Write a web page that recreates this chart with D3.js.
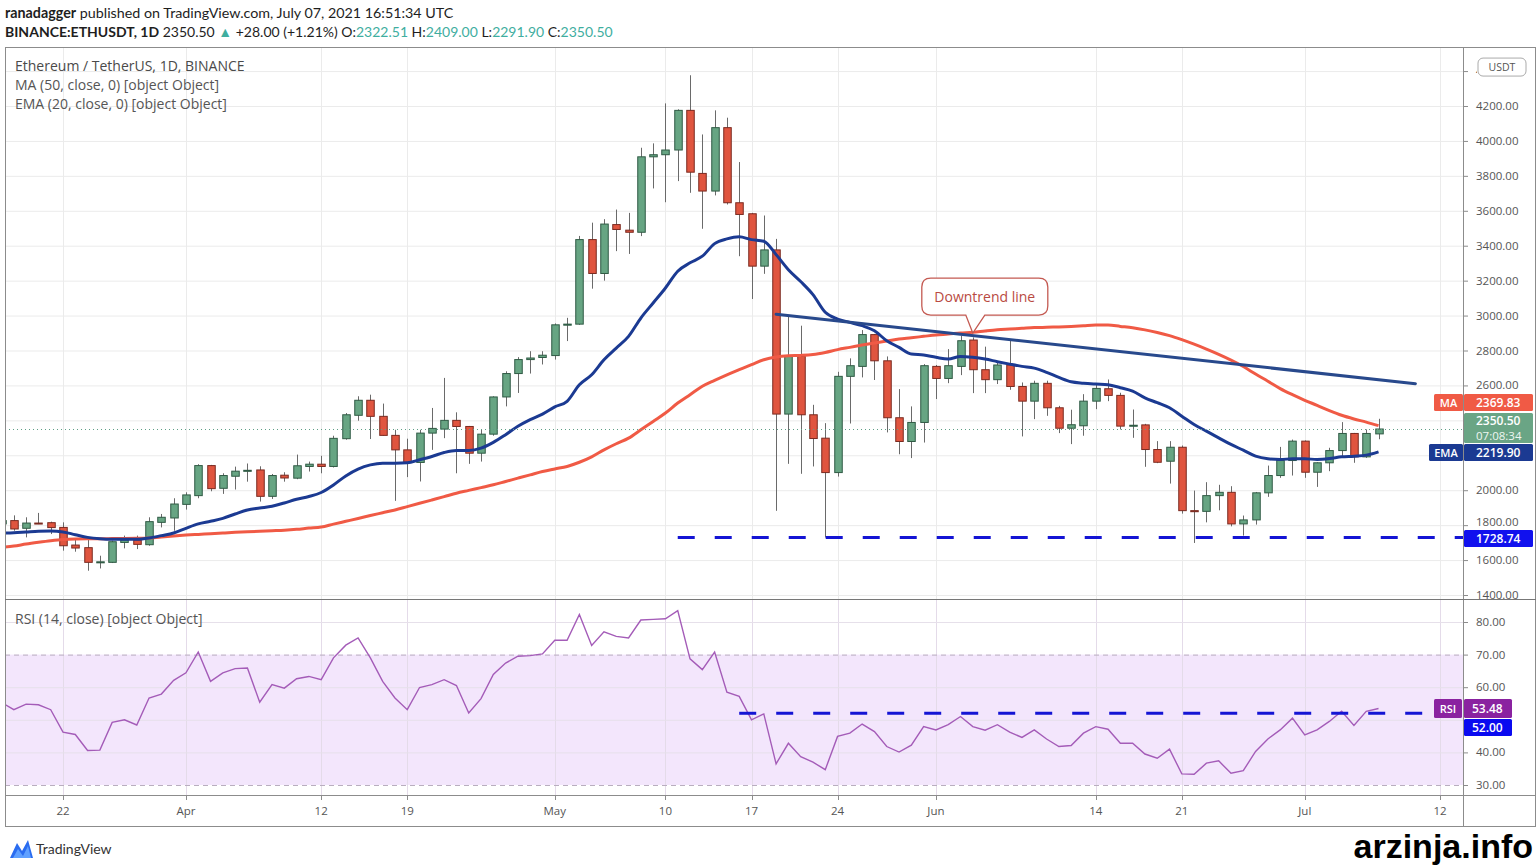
<!DOCTYPE html>
<html><head><meta charset="utf-8"><title>ETHUSDT 1D</title>
<script src="https://cdn.jsdelivr.net/npm/d3@7/dist/d3.min.js"></script>
<style>html,body{margin:0;padding:0;background:#fff;}svg{display:block;}</style>
</head><body>
<svg id="chart" width="1537" height="867"></svg>
<script>
// ---------- DATA ----------
const days = ["03-17","03-18","03-19","03-20","03-21","03-22","03-23","03-24","03-25","03-26","03-27","03-28","03-29","03-30","03-31",
"04-01","04-02","04-03","04-04","04-05","04-06","04-07","04-08","04-09","04-10","04-11","04-12","04-13","04-14","04-15","04-16","04-17","04-18","04-19","04-20","04-21","04-22","04-23","04-24","04-25","04-26","04-27","04-28","04-29","04-30",
"05-01","05-02","05-03","05-04","05-05","05-06","05-07","05-08","05-09","05-10","05-11","05-12","05-13","05-14","05-15","05-16","05-17","05-18","05-19","05-20","05-21","05-22","05-23","05-24","05-25","05-26","05-27","05-28","05-29","05-30","05-31",
"06-01","06-02","06-03","06-04","06-05","06-06","06-07","06-08","06-09","06-10","06-11","06-12","06-13","06-14","06-15","06-16","06-17","06-18","06-19","06-20","06-21","06-22","06-23","06-24","06-25","06-26","06-27","06-28","06-29","06-30",
"07-01","07-02","07-03","07-04","07-05","07-06","07-07"];

const opens = [1807,1826,1782,1812,1814,1787,1686,1671,1587,1587,1701,1715,1688,1816,1841,
1919,1969,2141,2011,2080,2109,2116,1965,2086,2069,2136,2149,2136,2295,2429,2515,2423,2314,2231,2159,2327,2350,2400,2365,2212,2321,2534,2668,2748,2760,
2771,2945,2951,3435,3241,3521,3489,3477,3909,3921,3948,4175,3814,3713,4076,3646,3583,3283,3376,2436,2767,2432,2298,2101,2652,2709,2891,2741,2415,2279,2388,
2709,2640,2709,2860,2690,2633,2717,2594,2510,2612,2472,2355,2369,2510,2581,2543,2367,2374,2233,2166,2246,1883,1879,1969,1988,1807,1830,1985,2084,2170,
2281,2103,2157,2227,2325,2191,2322.51];

const highs = [1835,1856,1845,1870,1820,1816,1720,1720,1625,1711,1740,1740,1845,1864,1954,
1988,2149,2145,2097,2135,2153,2137,2093,2103,2204,2164,2197,2312,2442,2538,2547,2496,2346,2295,2346,2471,2643,2446,2368,2350,2538,2681,2762,2796,2796,
2955,2987,3456,3532,3552,3607,3588,3961,3986,4215,4181,4376,4037,4175,4133,3879,3588,3573,3439,2996,2942,2489,2384,2678,2755,2917,2895,2766,2579,2480,2722,
2717,2808,2885,2875,2822,2736,2856,2617,2627,2627,2483,2461,2550,2608,2634,2558,2462,2380,2281,2281,2256,1998,2046,2031,2023,1855,1990,2141,2248,2290,
2285,2160,2243,2390,2328,2348,2409.00];

const lows = [1800,1768,1730,1806,1749,1654,1648,1539,1552,1583,1667,1663,1682,1787,1768,
1889,1954,1994,1979,2004,2049,1935,1950,2049,2063,2107,2097,2130,2289,2398,2293,2312,1939,2075,2050,2231,2298,2097,2151,2164,2312,2480,2557,2668,2720,
2748,2854,2947,3154,3200,3369,3353,3455,3728,3649,3770,3703,3497,3688,3636,3340,3095,3239,1882,2151,2094,2136,1729,2078,2382,2646,2631,2331,2206,2184,2273,
2522,2613,2659,2556,2556,2608,2575,2308,2407,2426,2327,2264,2312,2464,2510,2348,2300,2134,2155,2038,1866,1698,1816,1885,1793,1740,1803,1962,2071,2084,
2071,2019,2109,2195,2157,2185,2291.90];

const closes = [1826,1778,1812,1808,1786,1682,1669,1587,1590,1705,1715,1690,1820,1845,1921,
1973,2141,2009,2084,2109,2114,1965,2084,2070,2140,2149,2136,2297,2432,2515,2423,2314,2231,2159,2327,2354,2400,2365,2212,2321,2534,2668,2748,2757,2773,
2947,2951,3435,3241,3524,3493,3477,3909,3921,3948,4175,3821,3713,4076,3646,3579,3283,3376,2436,2770,2432,2296,2101,2652,2713,2891,2741,2415,2279,2388,2713,
2640,2713,2856,2690,2633,2717,2594,2510,2612,2472,2355,2375,2510,2583,2543,2367,2372,2233,2160,2246,1883,1877,1969,1988,1807,1830,1985,2084,2170,2281,
2103,2157,2227,2325,2191,2325,2350.50];

const ma50 = [1673,1680,1692,1702,1711,1718,1721,1722,1722,1723,1724,1725,1727,1732,1738,
1743,1747,1751,1755,1759,1762,1765,1768,1771,1776,1783,1789,1806,1822,1838,1855,1871,1887,1906,1925,1944,1963,1983,1999,2015,2031,2050,2069,2088,2107,
2122,2136,2160,2191,2231,2266,2298,2346,2394,2442,2499,2547,2595,2629,2661,2690,2719,2747,2763,2770,2772,2777,2789,2805,2818,2831,2843,2854,2866,2873,2881,
2889,2894,2900,2904,2912,2919,2923,2927,2931,2933,2935,2938,2942,2946,2946,2938,2930,2918,2903,2885,2862,2836,2808,2778,2745,2708,2665,2624,2582,2547,
2515,2486,2456,2429,2408,2390,2369.83];

const ema20 = [1755,1757,1761,1765,1766,1761,1745,1730,1722,1719,1719,1719,1726,1740,1755,
1782,1807,1822,1839,1864,1887,1898,1908,1927,1948,1964,1987,2030,2082,2121,2145,2155,2155,2157,2174,2193,2216,2228,2228,2241,2274,2318,2366,2404,2436,
2477,2509,2604,2661,2747,2814,2881,2986,3072,3158,3254,3302,3340,3412,3439,3451,3435,3426,3349,3263,3195,3120,3019,2980,2961,2942,2913,2856,2818,2780,2774,
2761,2751,2766,2761,2751,2736,2722,2709,2699,2675,2646,2621,2613,2608,2604,2587,2567,2529,2501,2472,2424,2376,2338,2300,2262,2229,2195,2180,2176,2180,
2180,2176,2181,2191,2195,2201,2219.90];

const rsi14 = [55.3,53.1,54.8,54.6,53.1,46.2,45.5,40.6,40.7,49.2,50.0,48.4,56.7,57.9,62.1,
64.4,70.8,61.8,64.4,65.7,65.9,55.4,60.8,59.7,62.6,63.3,62.3,69.0,72.9,75.1,69.0,61.8,56.7,53.1,59.9,60.8,62.3,60.5,52.1,56.5,63.9,67.4,69.5,69.7,70.2,
74.4,74.4,82.3,72.8,77.0,75.6,75.1,80.6,80.8,81.0,83.5,68.7,65.4,70.8,58.5,57.2,50.0,51.8,36.5,42.8,38.7,37.0,34.7,44.9,45.9,48.7,46.4,41.8,40.1,42.2,47.9,
46.9,48.5,51.0,47.9,46.8,48.5,46.2,44.6,46.9,44.1,41.8,42.1,45.9,47.9,47.1,42.8,42.8,39.5,38.2,41.0,33.4,33.3,36.7,37.4,33.6,34.4,40.3,44.1,46.9,50.5,
45.4,46.9,49.5,52.6,48.3,52.6,53.48];

const trendDays = ["05-19","07-10"];
const trendPrices = [3008, 2610];
const supportDays = ["05-11","07-15"];
const supportPrice = 1728.74;
const rsiLevelDays = ["05-16","07-15"];
const rsiLevel = 52.00;
const lastPrice = 2350.50;

const priceTicks = [1400,1600,1800,2000,2200,2400,2600,2800,3000,3200,3400,3600,3800,4000,4200,4400];
const rsiTicks = [30,40,50,60,70,80];
const timeTicks = ["03-22","04-01","04-12","04-19","05-01","05-10","05-17","05-24","06-01","06-14","06-21","07-01","07-12"];
const timeLabels = ["22","Apr","12","19","May","10","17","24","Jun","14","21","Jul","12"];

// ---------- LAYOUT ----------
const L=5, R=1463, T=47, PB=599, RT=600, RB=795, AB=826, FR=1536;
const FONT = "'Open Sans', 'Noto Sans', sans-serif";
const parse = s => d3.utcParse("%Y-%m-%d")("2021-" + s);
const x = d3.scaleUtc().domain([parse("03-22"), parse("07-12")]).range([63, 1440]);
const y = d3.scaleLinear().domain([1400, 4200]).range([595, 106]);
const yr = d3.scaleLinear().domain([30, 80]).range([785, 622]);
const fmt = d3.format(".2f");

const svg = d3.select("#chart");
svg.append("rect").attr("width",1537).attr("height",867).attr("fill","#fff");
const defs = svg.append("defs");
defs.append("clipPath").attr("id","clipP").append("rect").attr("x",L).attr("y",T).attr("width",R-L).attr("height",PB-T);
defs.append("clipPath").attr("id","clipR").append("rect").attr("x",L).attr("y",RT).attr("width",R-L).attr("height",RB-RT);
defs.append("clipPath").attr("id","clipTop").append("rect").attr("x",R).attr("y",T).attr("width",14).attr("height",40);

const data = days.map((d,i)=>({date:parse(d),o:opens[i],h:highs[i],l:lows[i],c:closes[i],ma:ma50[i],ema:ema20[i],rsi:rsi14[i]}));

// ---------- PRICE PANE GRID ----------
const gP = svg.append("g").attr("clip-path","url(#clipP)");
gP.selectAll("line.hg").data(priceTicks).join("line")
  .attr("x1",L).attr("x2",R).attr("y1",d=>y(d)+0.5).attr("y2",d=>y(d)+0.5)
  .attr("stroke","#ebebeb").attr("stroke-width",1);
gP.selectAll("line.vg").data(timeTicks).join("line")
  .attr("x1",d=>Math.round(x(parse(d)))+0.5).attr("x2",d=>Math.round(x(parse(d)))+0.5).attr("y1",T).attr("y2",PB)
  .attr("stroke","#ebebeb").attr("stroke-width",1);

// ---------- RSI PANE GRID ----------
const gR = svg.append("g").attr("clip-path","url(#clipR)");
gR.append("rect").attr("x",L).attr("width",R-L).attr("y",yr(70)).attr("height",yr(30)-yr(70)).attr("fill","#f3e6fc");
gR.selectAll("line.vg").data(timeTicks).join("line")
  .attr("x1",d=>Math.round(x(parse(d)))+0.5).attr("x2",d=>Math.round(x(parse(d)))+0.5).attr("y1",RT).attr("y2",RB)
  .attr("stroke","#e4dbe9").attr("stroke-width",1);
gR.selectAll("line.hg").data(rsiTicks.filter(v=>v!==70&&v!==30)).join("line")
  .attr("x1",L).attr("x2",R).attr("y1",d=>yr(d)+0.5).attr("y2",d=>yr(d)+0.5)
  .attr("stroke","#e6e0ea").attr("stroke-width",1);
gR.selectAll("line.band").data([70,30]).join("line")
  .attr("x1",L).attr("x2",R).attr("y1",d=>yr(d)+0.5).attr("y2",d=>yr(d)+0.5)
  .attr("stroke","#b9aebf").attr("stroke-width",1).attr("stroke-dasharray","5,4");

// ---------- CANDLES ----------
const up = "#67a583", upB = "#2f5a44", dn = "#e0553f", dnB = "#7a2a20";
const bw = 7.5;
const cg = gP.append("g");
cg.selectAll("line.wick").data(data).join("line")
  .attr("x1",d=>Math.round(x(d.date))+0.5).attr("x2",d=>Math.round(x(d.date))+0.5)
  .attr("y1",d=>y(d.h)).attr("y2",d=>y(d.l))
  .attr("stroke","#6a6a6a").attr("stroke-width",1);
cg.selectAll("rect.body").data(data).join("rect")
  .attr("x",d=>Math.round(x(d.date))-bw/2+0.5).attr("width",bw)
  .attr("y",d=>y(Math.max(d.o,d.c)))
  .attr("height",d=>Math.max(1,Math.abs(y(d.o)-y(d.c))))
  .attr("fill",d=>d.c>=d.o?up:dn)
  .attr("stroke",d=>d.c>=d.o?upB:dnB).attr("stroke-width",1);

// ---------- MA / EMA ----------
const lineMA = d3.line().x(d=>x(d.date)).y(d=>y(d.ma)).curve(d3.curveMonotoneX);
const lineEMA = d3.line().x(d=>x(d.date)).y(d=>y(d.ema)).curve(d3.curveMonotoneX);
gP.append("path").datum(data).attr("d",lineMA).attr("fill","none").attr("stroke","#f05a45").attr("stroke-width",3).attr("stroke-linejoin","round");
gP.append("path").datum(data).attr("d",lineEMA).attr("fill","none").attr("stroke","#1b3a92").attr("stroke-width",3).attr("stroke-linejoin","round");

// ---------- TREND LINE / SUPPORT ----------
const trend = trendDays.map((d,i)=>({date:parse(d),v:trendPrices[i]}));
gP.append("path").datum(trend).attr("d",d3.line().x(d=>x(d.date)).y(d=>y(d.v)))
  .attr("stroke","#28498c").attr("stroke-width",3).attr("fill","none").attr("stroke-linecap","round");
gP.append("line").attr("x1",x(parse(supportDays[0]))).attr("x2",x(parse(supportDays[1])))
  .attr("y1",y(supportPrice)).attr("y2",y(supportPrice))
  .attr("stroke","#1414d4").attr("stroke-width",3).attr("stroke-dasharray","17,20");
gP.append("line").attr("x1",L).attr("x2",R).attr("y1",Math.round(y(lastPrice))+0.5).attr("y2",Math.round(y(lastPrice))+0.5)
  .attr("stroke","#5f9f86").attr("stroke-width",1).attr("stroke-dasharray","1,3");

// ---------- CALLOUT ----------
{
  const tx = x(parse("06-04")), ty = y(2900);
  const l = tx-51, r = tx+75, t = ty-55, b = ty-18, rad = 9;
  const p = d3.path();
  p.moveTo(l+rad,t); p.lineTo(r-rad,t); p.quadraticCurveTo(r,t,r,t+rad);
  p.lineTo(r,b-rad); p.quadraticCurveTo(r,b,r-rad,b);
  p.lineTo(tx+12,b); p.lineTo(tx,ty); p.lineTo(tx-7,b);
  p.lineTo(l+rad,b); p.quadraticCurveTo(l,b,l,b-rad);
  p.lineTo(l,t+rad); p.quadraticCurveTo(l,t,l+rad,t); p.closePath();
  svg.append("path").attr("d",p.toString()).attr("fill","#fff").attr("stroke","#c45a52").attr("stroke-width",1.3);
  svg.append("text").attr("x",(l+r)/2).attr("y",(t+b)/2+5).attr("text-anchor","middle")
    .attr("font-family",FONT).attr("font-size",14).attr("fill","#b94a42").text("Downtrend line");
}

// ---------- RSI LINE ----------
gR.append("path").datum(data).attr("d",d3.line().x(d=>x(d.date)).y(d=>yr(d.rsi)))
  .attr("fill","none").attr("stroke","#a45cb8").attr("stroke-width",1.4);
gR.append("line").attr("x1",x(parse(rsiLevelDays[0]))).attr("x2",x(parse(rsiLevelDays[1])))
  .attr("y1",yr(rsiLevel)).attr("y2",yr(rsiLevel))
  .attr("stroke","#1414d4").attr("stroke-width",3).attr("stroke-dasharray","17,20");

// ---------- LEGENDS ----------
const leg = svg.append("g").attr("font-family",FONT).attr("font-size",14).attr("fill","#555");
leg.append("text").attr("x",15).attr("y",71).attr("fill","#4a4a4a").text("Ethereum / TetherUS, 1D, BINANCE");
leg.append("text").attr("x",15).attr("y",90).text("MA (50, close, 0) [object Object]");
leg.append("text").attr("x",15).attr("y",109).text("EMA (20, close, 0) [object Object]");
leg.append("text").attr("x",15).attr("y",624).text("RSI (14, close) [object Object]");

// ---------- FRAME ----------
const fr = svg.append("g").attr("stroke","#8c8c8c").attr("stroke-width",1).attr("fill","none");
fr.append("rect").attr("x",L+0.5).attr("y",T+0.5).attr("width",FR-L-1).attr("height",AB-T);
fr.append("line").attr("x1",R+0.5).attr("x2",R+0.5).attr("y1",T).attr("y2",AB);
fr.append("line").attr("x1",L).attr("x2",FR).attr("y1",PB+0.5).attr("y2",PB+0.5).attr("stroke","#777");
fr.append("line").attr("x1",L).attr("x2",FR).attr("y1",RB+0.5).attr("y2",RB+0.5);

// ---------- AXIS LABEL BOXES (positions on the axis) ----------
const priceBoxes = [[394,411],[413,443],[444,461]];
const rsiBoxes = [[699,718],[719,736]];
const hidden = (v, boxes) => boxes.some(b => v >= b[0] && v <= b[1]);

// ---------- PRICE AXIS ----------
const ax = svg.append("g").attr("font-family",FONT).attr("font-size",11.5).attr("fill","#555");
ax.selectAll("line.pt").data(priceTicks).join("line")
  .attr("x1",R).attr("x2",R+5).attr("y1",d=>y(d)+0.5).attr("y2",d=>y(d)+0.5).attr("stroke","#8c8c8c");
ax.selectAll("text.pl").data(priceTicks.filter(v=>!hidden(y(v),priceBoxes) && v<4400)).join("text")
  .attr("x",R+13).attr("y",d=>d===1800?y(d)+1:y(d)+4).text(d=>fmt(d));
ax.append("text").attr("clip-path","url(#clipTop)").attr("x",R+13).attr("y",y(4400)+4).text(fmt(4400));
ax.selectAll("line.rt").data(rsiTicks).join("line")
  .attr("x1",R).attr("x2",R+5).attr("y1",d=>yr(d)+0.5).attr("y2",d=>yr(d)+0.5).attr("stroke","#8c8c8c");
ax.selectAll("text.rl").data(rsiTicks.filter(v=>!hidden(yr(v),rsiBoxes))).join("text")
  .attr("x",R+13).attr("y",d=>yr(d)+4).text(d=>fmt(d));

// USDT badge
svg.append("rect").attr("x",1478).attr("y",y(4400)-13).attr("width",48).attr("height",18).attr("rx",5)
  .attr("fill","#fff").attr("stroke","#aaa");
svg.append("text").attr("x",1502).attr("y",y(4400)).attr("text-anchor","middle").attr("font-family",FONT)
  .attr("font-size",10.5).attr("fill","#555").text("USDT");

function tag(x0,w,yc,h,fill,txt,opts={}){
  svg.append("rect").attr("x",x0).attr("y",yc-h/2).attr("width",w).attr("height",h).attr("fill",fill).attr("rx",1.5);
  svg.append("text").attr("x",opts.anchor==="middle"?x0+w/2:x0+opts.pad).attr("y",yc+4)
    .attr("text-anchor",opts.anchor||"start").attr("font-family",FONT).attr("font-size",opts.size||12)
    .attr("font-weight",opts.weight||600).attr("fill","#fff").text(txt);
}
tag(1434,29,402.5,17,"#f05a45","MA",{anchor:"middle",size:11});
tag(1464,69,402.5,17,"#f05a45",fmt(ma50[ma50.length-1]),{pad:12});
svg.append("rect").attr("x",1464).attr("y",413).attr("width",69).attr("height",30).attr("fill","#6aa585").attr("rx",1.5);
svg.append("text").attr("x",1476).attr("y",425).attr("font-family",FONT).attr("font-size",12).attr("font-weight",600).attr("fill","#fff").text(fmt(lastPrice));
svg.append("text").attr("x",1476).attr("y",440).attr("font-family",FONT).attr("font-size",11.5).attr("fill","#eef6f1").text("07:08:34");
tag(1429,34,452.5,17,"#1b3a92","EMA",{anchor:"middle",size:11});
tag(1464,69,452.5,17,"#1b3a92",fmt(ema20[ema20.length-1]),{pad:12});
tag(1464,69,y(supportPrice)+1,17,"#1111ee",fmt(supportPrice),{pad:12});
tag(1434,28,708.5,19,"#8a22a0","RSI",{anchor:"middle",size:11});
tag(1464,48,708.5,19,"#8a22a0",fmt(rsi14[rsi14.length-1]),{pad:8});
tag(1464,48,727.5,17,"#0a0af0",fmt(rsiLevel),{pad:8});

// ---------- TIME AXIS ----------
const tg = svg.append("g").attr("font-family",FONT).attr("font-size",11.5).attr("fill","#555");
tg.selectAll("line").data(timeTicks).join("line")
  .attr("x1",d=>Math.round(x(parse(d)))+0.5).attr("x2",d=>Math.round(x(parse(d)))+0.5)
  .attr("y1",RB).attr("y2",RB+5).attr("stroke","#8c8c8c");
tg.selectAll("text").data(timeTicks).join("text")
  .attr("x",d=>x(parse(d))).attr("y",815).attr("text-anchor","middle").text((d,i)=>timeLabels[i]);

// ---------- HEADER ----------
const hd = svg.append("g").attr("font-family","Lato, 'Open Sans', sans-serif").attr("font-size",14.3).attr("fill","#1e1e1e");
const h1 = hd.append("text").attr("x",5).attr("y",18);
h1.append("tspan").attr("font-weight",700).text("ranadagger");
h1.append("tspan").text(" published on TradingView.com, July 07, 2021 16:51:34 UTC");
const h2 = hd.append("text").attr("x",5).attr("y",37).attr("font-size",14);
const teal = "#3fae9f";
h2.append("tspan").attr("font-weight",700).text("BINANCE:ETHUSDT, 1D");
h2.append("tspan").text(" " + fmt(lastPrice) + " ");
h2.append("tspan").attr("fill",teal).text("▲");
h2.append("tspan").text(" +28.00 (+1.21%) O:");
h2.append("tspan").attr("fill",teal).text(fmt(opens[opens.length-1]));
h2.append("tspan").text(" H:");
h2.append("tspan").attr("fill",teal).text(fmt(highs[highs.length-1]));
h2.append("tspan").text(" L:");
h2.append("tspan").attr("fill",teal).text(fmt(lows[lows.length-1]));
h2.append("tspan").text(" C:");
h2.append("tspan").attr("fill",teal).text(fmt(closes[closes.length-1]));

// ---------- FOOTER ----------
svg.append("path").attr("d","M10,858 L17,843 L22,851 L28,840 L33,858 Z").attr("fill","#2a6cf0");
svg.append("path").attr("d","M13,858 L18,849 L23,856 L28,846 L31,858 Z").attr("fill","#5fa0ff");
svg.append("text").attr("x",36).attr("y",854).attr("font-family","Lato, 'Open Sans', sans-serif").attr("font-size",14).attr("fill","#333").text("TradingView");
svg.append("text").attr("x",1533).attr("y",858).attr("text-anchor","end").attr("font-family","'Liberation Sans', Arial, sans-serif")
  .attr("font-weight",700).attr("font-size",34).attr("fill","#000").text("arzinja.info");
</script>
</body></html>
